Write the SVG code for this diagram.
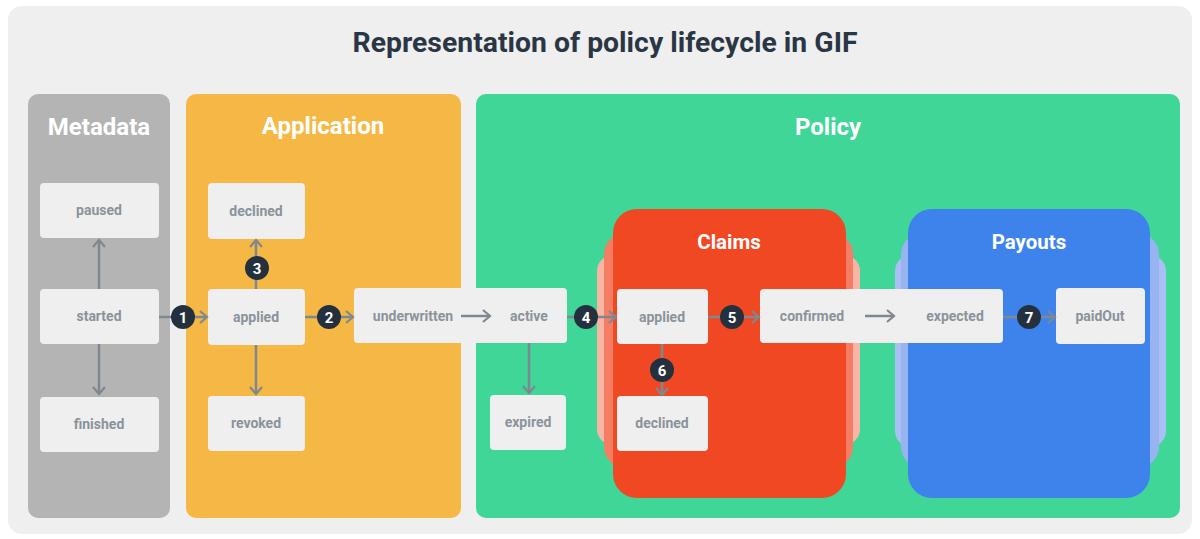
<svg xmlns="http://www.w3.org/2000/svg" width="1200" height="539" viewBox="0 0 1200 539">
<defs>
<style>
.title{font-family:Roboto,"Liberation Sans",sans-serif;font-weight:700;font-size:27px;fill:#2b3644;text-anchor:middle}
.plabel{font-family:Roboto,"Liberation Sans",sans-serif;font-weight:700;font-size:24px;fill:#ffffff;text-anchor:middle}
.slabel{font-family:Roboto,"Liberation Sans",sans-serif;font-weight:700;font-size:20.5px;fill:#ffffff;text-anchor:middle}
.node{fill:#efefef}
.nt{font-family:Roboto,"Liberation Sans",sans-serif;font-weight:700;font-size:14px;fill:#8a939b;text-anchor:middle}
.edge{stroke:#7f8891;stroke-width:2.5;fill:none}
.badge{fill:#25303f}
.bt{font-family:Roboto,"Liberation Sans",sans-serif;font-weight:700;font-size:15px;fill:#ffffff;text-anchor:middle}
</style>
<marker id="chev" viewBox="0 0 10 14" refX="8" refY="7" markerWidth="10" markerHeight="14" markerUnits="userSpaceOnUse" orient="auto">
<path d="M1,1 L8,7 L1,13" fill="none" stroke="#7f8891" stroke-width="2.2"/>
</marker>
</defs>
<rect x="0" y="0" width="1200" height="539" fill="#ffffff"/>
<rect x="8" y="6" width="1184" height="528" rx="14" fill="#efefef"/>
<text class="title" x="605" y="52" textLength="505" lengthAdjust="spacingAndGlyphs">Representation of policy lifecycle in GIF</text>

<g id="metadata">
<rect x="28" y="94" width="142" height="424" rx="10" fill="#b4b4b4"/>
<text class="plabel" x="99" y="135">Metadata</text>
</g>
<g id="application">
<rect x="186" y="94" width="275" height="424" rx="10" fill="#f6b845"/>
<text class="plabel" x="323" y="134">Application</text>
</g>
<g id="policy">
<rect x="476" y="94" width="704" height="424" rx="10" fill="#3fd698"/>
<text class="plabel" x="828" y="135">Policy</text>
</g>
<g id="claims">
<rect x="597" y="255" width="263" height="190" rx="16" fill="#f9b5a4"/>
<rect x="604" y="234" width="249" height="233" rx="20" fill="#f47d63"/>
<rect x="613" y="209" width="233" height="289" rx="24" fill="#ef4823"/>
<text class="slabel" x="729" y="249">Claims</text>
</g>
<g id="payouts">
<rect x="895" y="255" width="271" height="192" rx="16" fill="#aac0f5"/>
<rect x="901" y="234" width="258" height="233" rx="20" fill="#97b4f1"/>
<rect x="908" y="209" width="242" height="289" rx="24" fill="#3e83eb"/>
<text class="slabel" x="1029" y="249">Payouts</text>
</g>

<g id="n-paused"><rect class="node" x="40" y="183" width="119" height="55" rx="4"/><text class="nt" x="99" y="215">paused</text></g>
<g id="n-started"><rect class="node" x="40" y="289" width="119" height="55" rx="4"/><text class="nt" x="99" y="321">started</text></g>
<g id="n-finished"><rect class="node" x="40" y="397" width="119" height="55" rx="4"/><text class="nt" x="99" y="429">finished</text></g>
<g id="n-app-declined"><rect class="node" x="208" y="183" width="97" height="56" rx="4"/><text class="nt" x="256" y="216">declined</text></g>
<g id="n-app-applied"><rect class="node" x="208" y="289" width="97" height="56" rx="4"/><text class="nt" x="256" y="322">applied</text></g>
<g id="n-revoked"><rect class="node" x="208" y="396" width="97" height="55" rx="4"/><text class="nt" x="256" y="428">revoked</text></g>
<g id="n-underwritten-active"><rect class="node" x="354" y="288" width="213" height="55" rx="4"/><text class="nt" x="413" y="321">underwritten</text><text class="nt" x="529" y="321">active</text></g>
<g id="n-expired"><rect class="node" x="490" y="395" width="76" height="55" rx="4"/><text class="nt" x="528" y="427">expired</text></g>
<g id="n-claim-applied"><rect class="node" x="617" y="289" width="91" height="55" rx="4"/><text class="nt" x="662" y="322">applied</text></g>
<g id="n-claim-declined"><rect class="node" x="617" y="396" width="91" height="55" rx="4"/><text class="nt" x="662" y="428">declined</text></g>
<g id="n-confirmed-expected"><rect class="node" x="760" y="289" width="243" height="54" rx="4"/><text class="nt" x="812" y="321">confirmed</text><text class="nt" x="955" y="321">expected</text></g>
<g id="n-paidout"><rect class="node" x="1056" y="288" width="89" height="56" rx="4"/><text class="nt" x="1100" y="321">paidOut</text></g>

<g id="connectors">
<line class="edge" x1="99" y1="289" x2="99" y2="240" marker-end="url(#chev)"/>
<line class="edge" x1="99" y1="344" x2="99" y2="394" marker-end="url(#chev)"/>
<line class="edge" x1="159" y1="317" x2="207" y2="317" marker-end="url(#chev)"/>
<line class="edge" x1="305" y1="317" x2="353" y2="317" marker-end="url(#chev)"/>
<line class="edge" x1="256" y1="289" x2="256" y2="240" marker-end="url(#chev)"/>
<line class="edge" x1="256" y1="345" x2="256" y2="394" marker-end="url(#chev)"/>
<line class="edge" x1="461" y1="316" x2="490" y2="316" marker-end="url(#chev)"/>
<line class="edge" x1="567" y1="317" x2="616" y2="317" marker-end="url(#chev)"/>
<line class="edge" x1="529" y1="343" x2="529" y2="393" marker-end="url(#chev)"/>
<line class="edge" x1="708" y1="317" x2="759" y2="317" marker-end="url(#chev)"/>
<line class="edge" x1="662" y1="344" x2="662" y2="395" marker-end="url(#chev)"/>
<line class="edge" x1="865" y1="316" x2="894" y2="316" marker-end="url(#chev)"/>
<line class="edge" x1="1003" y1="317" x2="1055" y2="317" marker-end="url(#chev)"/>
<circle class="badge" cx="183" cy="317" r="12"/><text class="bt" x="183" y="322.5">1</text>
<circle class="badge" cx="329" cy="317" r="12"/><text class="bt" x="329" y="322.5">2</text>
<circle class="badge" cx="257" cy="268" r="12"/><text class="bt" x="257" y="273.5">3</text>
<circle class="badge" cx="586" cy="317" r="12"/><text class="bt" x="586" y="322.5">4</text>
<circle class="badge" cx="732" cy="317" r="12"/><text class="bt" x="732" y="322.5">5</text>
<circle class="badge" cx="662" cy="370" r="12"/><text class="bt" x="662" y="375.5">6</text>
<circle class="badge" cx="1029" cy="317" r="12"/><text class="bt" x="1029" y="322.5">7</text>
</g>
</svg>
